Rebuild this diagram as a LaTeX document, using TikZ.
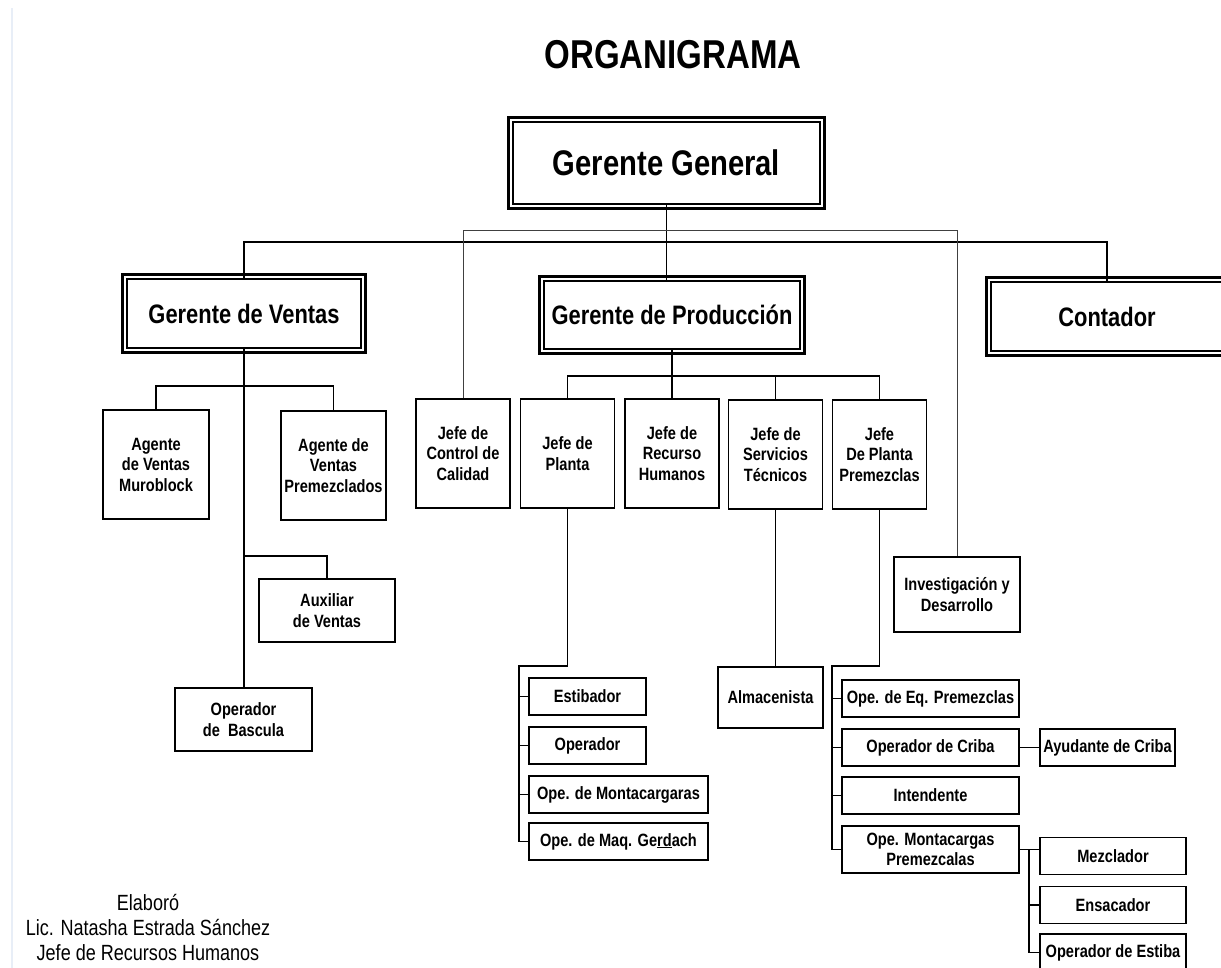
\documentclass[tikz,border=0pt]{standalone}
\usepackage{fontspec}
\setmainfont{Liberation Sans}[FakeStretch=0.82]
\usepackage{tikz}

\definecolor{hoja}{RGB}{232,238,247}

\newcommand\titfont{\fontsize{40.3}{44}\selectfont\bfseries}
\newcommand\ggfont{\fontsize{35.6}{40}\selectfont\bfseries}
\newcommand\gerfont{\fontsize{26.7}{30}\selectfont\bfseries}
\newcommand\cajafont{\fontsize{17.8}{20.5}\selectfont\bfseries}
\newcommand\firmafont{\fontsize{22}{25}\selectfont}

\tikzset{
  gerencia/.style={draw, line width=1.2pt, align=center, inner sep=1pt, font=\gerfont},
  cargo/.style={draw, line width=1.1pt, align=center, inner sep=1pt, font=\cajafont},
  jefe/.style={cargo, minimum width=94pt, minimum height=109pt},
  fila/.style={cargo, minimum height=37pt},
  linea/.style={line width=1.1pt},
  fino/.style={line width=0.8pt, color=black!75},
}

\begin{document}
\begin{tikzpicture}[x=1pt,y=-1pt]
\useasboundingbox (0,0) rectangle (1221,968);

% borde de la hoja escaneada
\draw[line width=2pt,color=hoja] (12,8) -- (12,968);

\node[font=\titfont] (titulo) at (673,55) {ORGANIGRAMA};

% Gerencias
\node[gerencia, font=\ggfont, minimum width=307pt, minimum height=82pt] (gg) at (666.5,163) {Gerente General};
\node[gerencia, minimum width=234pt, minimum height=69pt] (gv) at (244,313.5) {Gerente de Ventas};
\node[gerencia, minimum width=256pt, minimum height=68pt] (gp) at (672,315) {Gerente de Producción};
\node[gerencia, minimum width=232pt, minimum height=69pt] (ct) at (1107,316.5) {Contador};

% Ventas
\node[cargo, minimum width=106pt, minimum height=109pt] (avm) at (156,464.5) {Agente\\de Ventas\\Muroblock};
\node[cargo, minimum width=105pt, minimum height=109pt] (avp) at (333.5,465.5) {Agente de\\Ventas\\Premezclados};
\node[cargo, minimum width=136pt, minimum height=63pt] (aux) at (327,610.5) {Auxiliar\\de Ventas};
\node[cargo, minimum width=137pt, minimum height=63pt] (obs) at (243.5,719.5) {Operador\\de~ Bascula};

% Jefes
\node[jefe] (jcc) at (463,453.5) {Jefe de\\Control de\\Calidad};
\node[jefe] (jdp) at (567.5,453.5) {Jefe de\\Planta};
\node[jefe] (jrh) at (672,453.5) {Jefe de\\Recurso\\Humanos};
\node[jefe] (jst) at (775.5,454.5) {Jefe de\\Servicios\\Técnicos};
\node[jefe] (jdpp) at (879.5,454.5) {Jefe\\De Planta\\Premezclas};
\node[cargo, minimum width=126pt, minimum height=75pt] (iyd) at (957,594.5) {Investigación y\\Desarrollo};
\node[cargo, minimum width=105pt, minimum height=61pt] (alm) at (770.5,697.5) {Almacenista};

% Planta
\node[fila, minimum width=117pt] (est) at (587.5,696.5) {Estibador};
\node[fila, minimum width=117pt] (ope) at (587.5,745.5) {Operador};
\node[fila, minimum width=179pt] (omc) at (618.5,794.5) {Ope. de Montacargaras};
\node[fila, minimum width=179pt] (omg) at (618.5,841.5) {Ope. de Maq. Ge\underline{rd}ach};

% Premezclas
\node[fila, minimum width=177pt] (oep) at (930.5,698.5) {Ope. de Eq. Premezclas};
\node[fila, minimum width=177pt] (ocr) at (930.5,747.5) {Operador de Criba};
\node[fila, minimum width=135pt] (aya) at (1107.5,747.5) {Ayudante de Criba};
\node[fila, minimum width=177pt] (int) at (930.5,795.5) {Intendente};
\node[cargo, minimum width=177pt, minimum height=47pt] (omp) at (930.5,849.5) {Ope. Montacargas\\Premezcalas};
\node[fila, minimum width=146pt] (mez) at (1113,856) {Mezclador};
\node[fila, minimum width=146pt] (ens) at (1113,905) {Ensacador};
\node[fila, minimum width=146pt] (oes) at (1113,952.5) {Operador de Estiba};

\node[font=\firmafont, align=center] (firma) at (148,928) {Elaboró\\Lic. Natasha Estrada Sánchez\\Jefe de Recursos Humanos};

% Lineas de mando
\coordinate (bajo) at (0,242);
\coordinate (alto) at (0,230);
\draw[linea] (gg.south) -- (gg.south |- gp.north);
\draw[linea] (gv.north) -- (gv.north |- bajo) -- (ct.north |- bajo) -- (ct.north);
\draw[fino] (jcc.north) -- (jcc.north |- alto) -- (iyd.north |- alto) -- (iyd.north);

\coordinate (vbus) at (0,386);
\coordinate (abus) at (0,556);
\draw[linea] (gv.south) -- (gv.south |- obs.north);
\draw[linea] (avm.north) -- (avm.north |- vbus) -- (avp.north |- vbus) -- (avp.north);
\draw[linea] (gv.south |- abus) -| (aux.north);

\coordinate (pbus) at (0,376);
\draw[linea] (gp.south) -- (jrh.north);
\draw[linea] (jdp.north) -- (jdp.north |- pbus) -- (jdpp.north |- pbus) -- (jdpp.north);
\draw[linea] (jst.north) -- (jst.north |- pbus);
\draw[linea] (jst.south) -- (jst.south |- alm.north);

\coordinate (plbus) at (519,666);
\draw[linea] (jdp.south) |- (plbus) -- (plbus |- omg.west) -- (omg.west);
\foreach \n in {est,ope,omc}
  \draw[linea] (plbus |- \n.west) -- (\n.west);

\coordinate (pmbus) at (832,666);
\draw[linea] (jdpp.south) |- (pmbus) -- (pmbus |- omp.west) -- (omp.west);
\foreach \n in {oep,ocr,int}
  \draw[linea] (pmbus |- \n.west) -- (\n.west);
\draw[linea] (ocr.east) -- (aya.west);

\coordinate (mbus) at (1029,0);
\draw[linea] (omp.east) -- (omp.east -| mez.west);
\draw[linea] (mbus |- omp.east) -- (mbus |- oes.west) -- (oes.west);
\draw[linea] (mbus |- ens.west) -- (ens.west);

% marco doble de las gerencias
\foreach \n in {gg,gv,gp,ct}
  \draw[line width=2.6pt] ([shift={(-3.8pt,3.8pt)}]\n.north west) rectangle ([shift={(3.8pt,-3.8pt)}]\n.south east);

\end{tikzpicture}
\end{document}
